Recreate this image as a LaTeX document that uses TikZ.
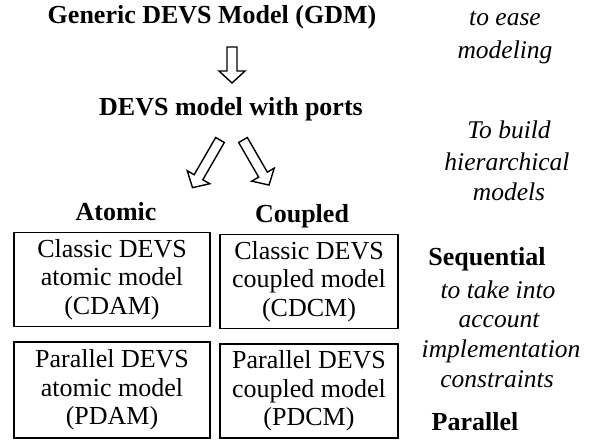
\documentclass[tikz,border=0pt]{standalone}
\usepackage{fontspec}
\setmainfont{Liberation Serif}
\newcommand\blockarr[3]{% tail coordinate, rotation, length
  \draw[barrow, shift={(#1)}, rotate=#2]
    (-5,0) -- (-5,-#3+12) -- (-13,-#3+12) -- (0,-#3) -- (13,-#3+12) -- (5,-#3+12) -- (5,0) -- cycle;}
\begin{document}
\begin{tikzpicture}[x=1pt,y=1pt,
  hd/.style={inner sep=0pt, font=\fontsize{26}{28.5}\selectfont\bfseries},
  note/.style={inner sep=0pt, font=\fontsize{25.5}{30}\selectfont\itshape},
  modelbox/.style={draw, line width=1.5pt, align=center, inner sep=0pt,
    font=\fontsize{26}{28.5}\selectfont},
  barrow/.style={draw, line width=1.4pt, line join=miter}]
\useasboundingbox (0,0) rectangle (604,-441);
% headings
\node[hd, anchor=base] (gdm) at (212,-24) {Generic DEVS Model (GDM)};
\node[hd, anchor=base] (ports) at (231,-115) {DEVS model with ports};
\node[hd, anchor=base] (atomic) at (116,-220) {Atomic};
\node[hd, anchor=base] (coupled) at (302,-222) {Coupled};
\node[hd, anchor=base] (seq) at (487,-265) {Sequential};
\node[hd, anchor=base] (par) at (475,-430) {Parallel};
% notes
\node[note, anchor=base] (ease1) at (505,-26) {to ease};
\node[note, anchor=base] (ease2) at (505,-59) {modeling};
\node[note, anchor=base] (hier1) at (509,-138) {To build};
\node[note, anchor=base] (hier2) at (507,-170) {hierarchical};
\node[note, anchor=base] (hier3) at (509,-200) {models};
\node[note, anchor=base] (impl1) at (498,-298) {to take into};
\node[note, anchor=base] (impl2) at (499,-327) {account};
\node[note, anchor=base] (impl3) at (501,-357) {implementation};
\node[note, anchor=base] (impl4) at (497,-387) {constraints};
% boxes
\node[modelbox, minimum width=196pt, minimum height=94pt] (cdam) at (112,-279.5) {Classic DEVS\\atomic model\\(CDAM)};
\node[modelbox, minimum width=178pt, minimum height=94pt] (cdcm) at (309,-281.5) {Classic DEVS\\coupled model\\(CDCM)};
\node[modelbox, minimum width=196pt, minimum height=96pt] (pdam) at (112,-390) {Parallel DEVS\\atomic model\\(PDAM)};
\node[modelbox, minimum width=178pt, minimum height=94pt] (pdcm) at (309,-391) {Parallel DEVS\\coupled model\\(PDCM)};
% block arrows
\coordinate (t0) at (232,-47);
\coordinate (t1) at (220,-140);
\coordinate (t2) at (243,-140);
\blockarr{t0}{0}{36}
\blockarr{t1}{-30}{55}
\blockarr{t2}{30}{52}
\end{tikzpicture}
\end{document}
